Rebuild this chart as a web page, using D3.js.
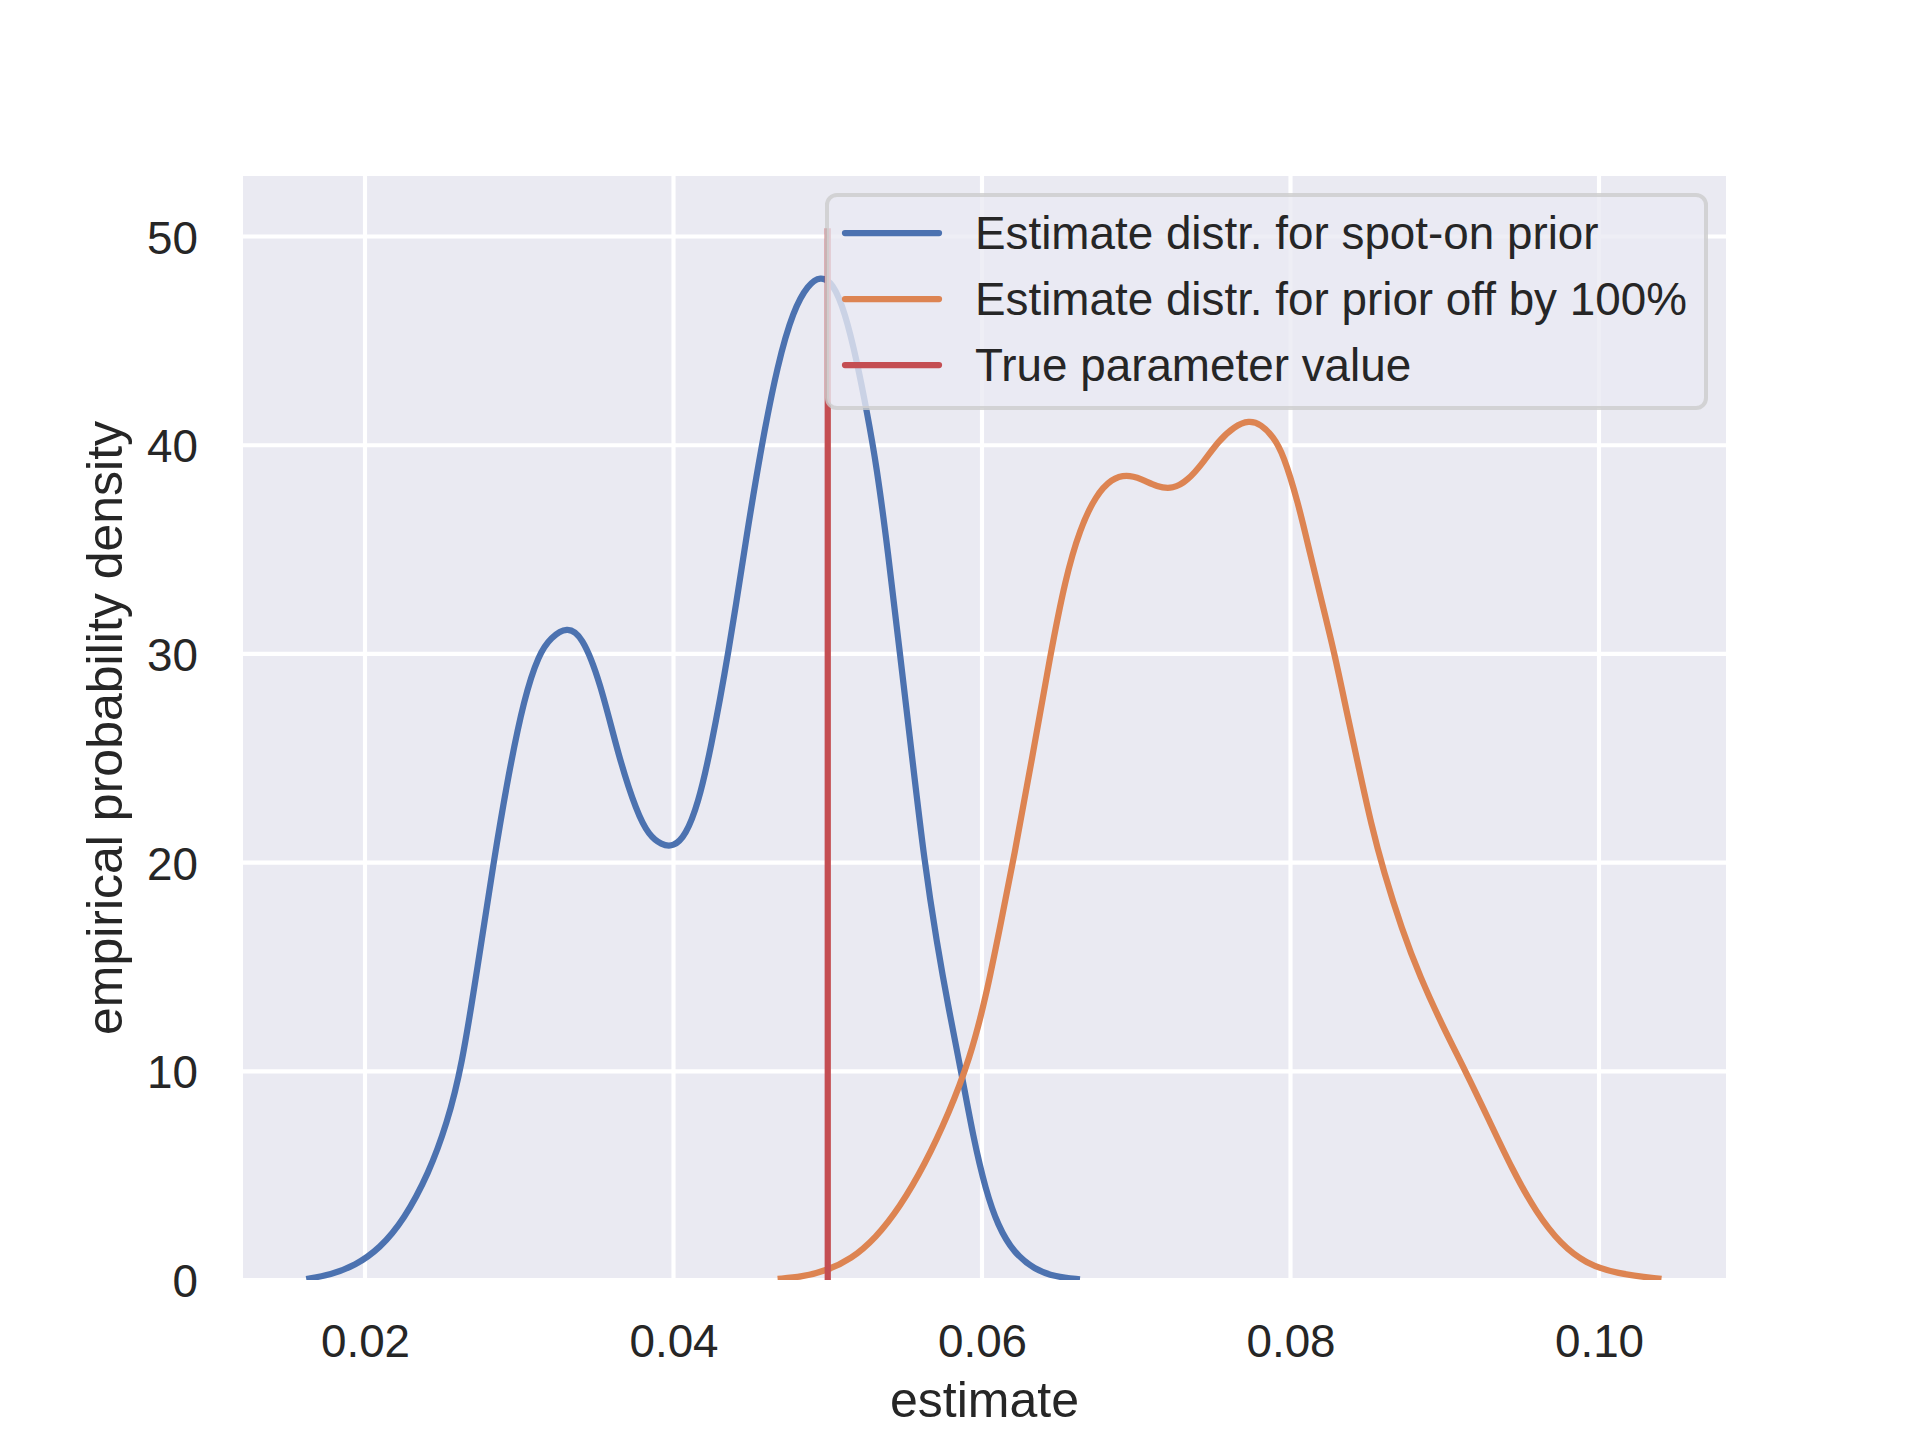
<!DOCTYPE html>
<html>
<head>
<meta charset="utf-8">
<script src="https://cdn.jsdelivr.net/npm/d3@7"></script>
<style>
  html, body { margin: 0; padding: 0; background: #ffffff; }
  svg { display: block; }
  text { font-family: "Liberation Sans", Arial, Helvetica, sans-serif; fill: #262626; }
</style>
</head>
<body>
<script>
// ---- data ----
const xTicks = [0.02, 0.04, 0.06, 0.08, 0.10];
const xTickLabels = ["0.02", "0.04", "0.06", "0.08", "0.10"];
const yTicks = [0, 10, 20, 30, 40, 50];
const yTickLabels = ["0", "10", "20", "30", "40", "50"];

const spotOnX = [0.01619, 0.01778, 0.01937, 0.02095, 0.02254, 0.02413, 0.02532, 0.02627, 0.02730, 0.02833,
  0.02929, 0.03032, 0.03127, 0.03206, 0.03310, 0.03405, 0.03524, 0.03643, 0.03762, 0.03841,
  0.03921, 0.04000, 0.04079, 0.04159, 0.04238, 0.04357, 0.04476, 0.04571, 0.04675, 0.04778,
  0.04873, 0.04952, 0.05032, 0.05111, 0.05190, 0.05254, 0.05317, 0.05389, 0.05468, 0.05548,
  0.05627, 0.05706, 0.05786, 0.05865, 0.05944, 0.06024, 0.06103, 0.06206, 0.06341, 0.06476, 0.06635];
const spotOnY = [0.05, 0.25, 0.7, 1.5, 2.9, 5.1, 7.5, 10.2, 15.0, 20.0,
  24.2, 27.9, 30.0, 30.8, 31.3, 30.9, 28.7, 25.1, 22.4, 21.3,
  20.85, 20.75, 21.3, 22.8, 25.3, 30.0, 35.8, 40.0, 43.9, 46.5,
  47.7, 48.1, 47.8, 46.4, 44.0, 41.6, 39.0, 35.0, 30.0, 25.0,
  20.0, 16.2, 12.9, 10.0, 6.8, 4.3, 2.6, 1.3, 0.5, 0.15, 0.03];

const offX = [0.04675, 0.04833, 0.04992, 0.05151, 0.05310, 0.05468, 0.05627, 0.05786, 0.05921, 0.06024,
  0.06119, 0.06206, 0.06325, 0.06444, 0.06540, 0.06635, 0.06738, 0.06841, 0.06937, 0.07032,
  0.07135, 0.07238, 0.07333, 0.07437, 0.07532, 0.07635, 0.07730, 0.07810, 0.07889, 0.07952,
  0.08048, 0.08127, 0.08206, 0.08286, 0.08365, 0.08444, 0.08524, 0.08603, 0.08722, 0.08841,
  0.08984, 0.09135, 0.09278, 0.09437, 0.09595, 0.09754, 0.09913, 0.10111, 0.10405];
const offY = [0.05, 0.15, 0.45, 1.0, 2.0, 3.5, 5.5, 8.0, 10.6, 13.5,
  17.0, 20.2, 25.0, 30.0, 33.6, 36.0, 37.6, 38.4, 38.6, 38.4,
  38.0, 37.9, 38.3, 39.2, 40.2, 40.9, 41.2, 41.0, 40.4, 39.6,
  37.3, 34.8, 32.4, 30.0, 27.2, 24.5, 21.8, 19.6, 16.8, 14.5,
  12.2, 10.0, 7.8, 5.3, 3.2, 1.7, 0.8, 0.3, 0.05];

const trueValue = 0.05;
const trueLineTop = 50.4;

const seriesNames = ["Estimate distr. for spot-on prior", "Estimate distr. for prior off by 100%", "True parameter value"];
const seriesColors = ["#4C72B0", "#DD8452", "#C44E52"];

// ---- layout ----
const W = 1920, H = 1440;
const L = 243, R = 1726, T = 176, B = 1280;

const svg = d3.select("body").append("svg").attr("width", W).attr("height", H);
svg.append("rect").attr("width", W).attr("height", H).attr("fill", "#ffffff");

const x = d3.scaleLinear().domain([0.012091, 0.108233]).range([L, R]);
const y = d3.scaleLinear().domain([0, 52.9]).range([B, T]);

svg.append("rect").attr("x", L).attr("y", T).attr("width", R - L).attr("height", B - T).attr("fill", "#EAEAF2");

svg.append("defs").append("clipPath").attr("id", "clip")
  .append("rect").attr("x", L).attr("y", T).attr("width", R - L).attr("height", B - T);

// grid
const grid = svg.append("g");
grid.selectAll(".gx").data(xTicks).enter().append("line")
  .attr("x1", d => x(d)).attr("x2", d => x(d)).attr("y1", T).attr("y2", B)
  .attr("stroke", "#ffffff").attr("stroke-width", 4.17);
grid.selectAll(".gy").data(yTicks).enter().append("line")
  .attr("x1", L).attr("x2", R).attr("y1", d => y(d)).attr("y2", d => y(d))
  .attr("stroke", "#ffffff").attr("stroke-width", 4.17);

// axes via d3 (no domain, no tick lines)
const xAxis = d3.axisBottom(x).tickValues(xTicks).tickFormat((d, i) => xTickLabels[i]).tickSize(0).tickPadding(0);
const gx = svg.append("g").attr("transform", `translate(0,${B})`).call(xAxis);
gx.select(".domain").remove();
gx.selectAll("text").attr("font-size", 45.8).attr("fill", "#262626")
  .attr("font-family", '"Liberation Sans", Arial, sans-serif')
  .attr("dy", null).attr("y", 77);

const yAxis = d3.axisLeft(y).tickValues(yTicks).tickFormat((d, i) => yTickLabels[i]).tickSize(0).tickPadding(0);
const gy = svg.append("g").attr("transform", `translate(${L},0)`).call(yAxis);
gy.select(".domain").remove();
gy.selectAll("text").attr("font-size", 45.8).attr("fill", "#262626")
  .attr("font-family", '"Liberation Sans", Arial, sans-serif')
  .attr("x", -45).attr("dy", "0.36em");

// axis labels
svg.append("text").attr("x", (L + R) / 2).attr("y", 1417).attr("text-anchor", "middle")
  .attr("font-size", 50).text("estimate");
svg.append("text").attr("transform", `translate(122,${(T + B) / 2}) rotate(-90)`)
  .attr("text-anchor", "middle").attr("font-size", 50).text("empirical probability density");

// curves
const line = d3.line().x(d => x(d[0])).y(d => y(d[1])).curve(d3.curveBasis);
const plot = svg.append("g").attr("clip-path", "url(#clip)");
plot.append("path").datum(spotOnX.map((v, i) => [v, spotOnY[i]]))
  .attr("d", line).attr("fill", "none").attr("stroke", seriesColors[0]).attr("stroke-width", 6.25)
  .attr("stroke-linejoin", "round");
plot.append("path").datum(offX.map((v, i) => [v, offY[i]]))
  .attr("d", line).attr("fill", "none").attr("stroke", seriesColors[1]).attr("stroke-width", 6.25)
  .attr("stroke-linejoin", "round");
plot.append("line").attr("x1", x(trueValue)).attr("x2", x(trueValue))
  .attr("y1", y(0)).attr("y2", y(trueLineTop))
  .attr("stroke", seriesColors[2]).attr("stroke-width", 6.25);

// legend
const leg = svg.append("g");
leg.append("rect").attr("x", 827).attr("y", 195).attr("width", 879).attr("height", 213).attr("rx", 10)
  .attr("fill", "#EAEAF2").attr("fill-opacity", 0.8)
  .attr("stroke", "#CCCCCC").attr("stroke-opacity", 0.8).attr("stroke-width", 4);
const rows = [233, 299, 365];
seriesNames.forEach((name, i) => {
  leg.append("line").attr("x1", 845).attr("x2", 939).attr("y1", rows[i]).attr("y2", rows[i])
    .attr("stroke", seriesColors[i]).attr("stroke-width", 6.25).attr("stroke-linecap", "round");
  leg.append("text").attr("x", 975).attr("y", rows[i]).attr("dy", "0.36em")
    .attr("font-size", 45.8).text(name);
});
</script>
</body>
</html>
